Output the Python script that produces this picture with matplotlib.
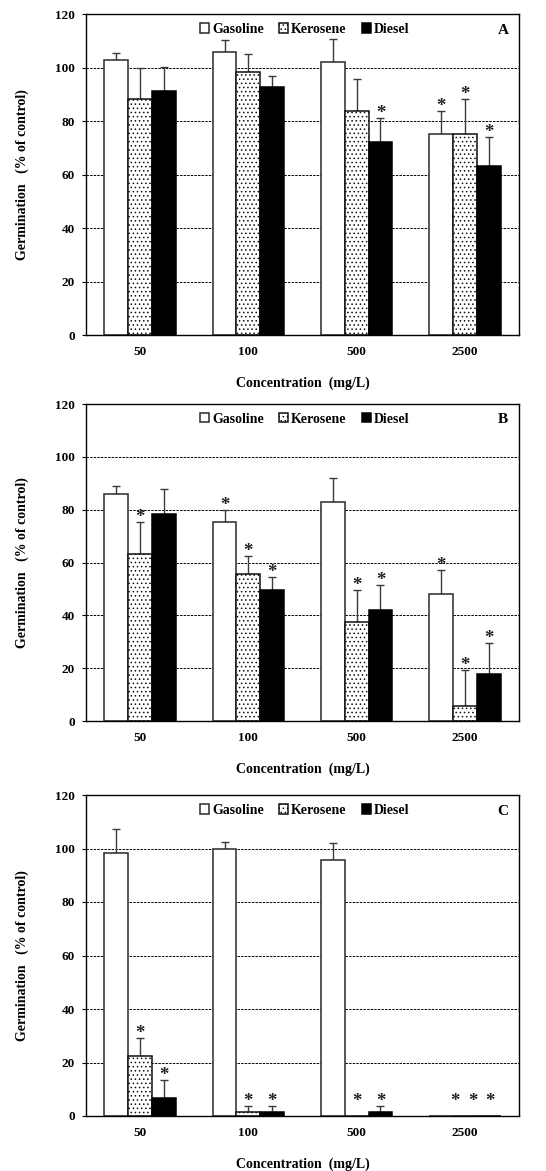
import matplotlib
matplotlib.use("Agg")
import matplotlib.pyplot as plt
import numpy as np

plt.rcParams['font.family'] = ['Liberation Serif', 'DejaVu Serif']
plt.rcParams['font.weight'] = 'bold'
plt.rcParams['hatch.linewidth'] = 0.6

concentrations = ["50", "100", "500", "2500"]
series = ["Gasoline", "Kerosene", "Diesel"]
panels = ["A", "B", "C"]

# Panel A
a_gasoline = [102.9, 105.9, 102.1, 75.0]
a_kerosene = [88.2, 98.4, 83.7, 75.0]
a_diesel = [91.2, 92.7, 72.1, 63.3]
a_gasoline_err = [2.5, 4.3, 8.5, 8.7]
a_kerosene_err = [11.8, 6.6, 11.9, 13.2]
a_diesel_err = [9.0, 4.3, 9.0, 10.9]
a_gasoline_star = [0, 0, 0, 1]
a_kerosene_star = [0, 0, 0, 1]
a_diesel_star = [0, 0, 1, 1]

# Panel B
b_gasoline = [86.0, 75.4, 82.9, 48.2]
b_kerosene = [63.2, 55.6, 37.3, 5.6]
b_diesel = [78.5, 49.6, 42.2, 17.8]
b_gasoline_err = [2.9, 4.6, 8.9, 9.1]
b_kerosene_err = [12.1, 6.9, 12.4, 13.8]
b_diesel_err = [9.5, 4.8, 9.2, 11.6]
b_gasoline_star = [0, 1, 0, 1]
b_kerosene_star = [1, 1, 1, 1]
b_diesel_star = [0, 1, 1, 1]

# Panel C
c_gasoline = [98.5, 100.0, 95.6, 0.0]
c_kerosene = [22.6, 1.4, 0.0, 0.0]
c_diesel = [6.9, 1.4, 1.4, 0.0]
c_gasoline_err = [8.8, 2.6, 6.6, 0.0]
c_kerosene_err = [6.4, 2.5, 0.0, 0.0]
c_diesel_err = [6.6, 2.5, 2.5, 0.0]
c_gasoline_star = [0, 0, 0, 1]
c_kerosene_star = [1, 1, 1, 1]
c_diesel_star = [1, 1, 1, 1]

panel_data = {
    "A": ([a_gasoline, a_kerosene, a_diesel],
          [a_gasoline_err, a_kerosene_err, a_diesel_err],
          [a_gasoline_star, a_kerosene_star, a_diesel_star]),
    "B": ([b_gasoline, b_kerosene, b_diesel],
          [b_gasoline_err, b_kerosene_err, b_diesel_err],
          [b_gasoline_star, b_kerosene_star, b_diesel_star]),
    "C": ([c_gasoline, c_kerosene, c_diesel],
          [c_gasoline_err, c_kerosene_err, c_diesel_err],
          [c_gasoline_star, c_kerosene_star, c_diesel_star]),
}

yticks = [0, 20, 40, 60, 80, 100, 120]

W, H = 546, 1171
fig = plt.figure(figsize=(W / 100, H / 100), dpi=100)

axes_px = {"A": (14, 335), "B": (404, 721), "C": (795, 1116)}
left_px, right_px = 86, 519

styles = [
    dict(facecolor="white", edgecolor="#2a2a2a", hatch=None),
    dict(facecolor="white", edgecolor="#111111", hatch="...."),
    dict(facecolor="black", edgecolor="black", hatch=None),
]
offsets = [-0.22, 0.0, 0.22]
width = 0.22
# manual horizontal nudges for the crowded stars at the last group of panel C
star_nudge = {("C", 3, 0): 0.13, ("C", 3, 1): 0.07, ("C", 3, 2): 0.01}

x = np.arange(len(concentrations))

for p in panels:
    top, bot = axes_px[p]
    ax = fig.add_axes([left_px / W, 1 - bot / H, (right_px - left_px) / W, (bot - top) / H])
    vals, errs, stars = panel_data[p]
    for ax_y in [20, 40, 60, 80, 100]:
        ax.axhline(ax_y, color="black", lw=0.7, ls=(0, (2.5, 1.2)), zorder=0.5)
    handles = []
    for i, name in enumerate(series):
        st = styles[i]
        b = ax.bar(x + offsets[i], vals[i], width, facecolor=st["facecolor"],
                   edgecolor=st["edgecolor"], hatch=st["hatch"], lw=1.1,
                   label=name, zorder=2)
        handles.append(b)
        for j in range(len(concentrations)):
            v, e = vals[i][j], errs[i][j]
            xc = x[j] + offsets[i]
            if e > 0:
                ax.errorbar([xc], [v], yerr=[[0], [e]], fmt="none", ecolor="#3a3a3a",
                            elinewidth=1.0, capsize=3, capthick=1.0, zorder=1.5)
            if stars[i][j]:
                cap = v + e
                base = max(cap, 3.9)
                xs = xc + star_nudge.get((p, j, i), 0.0)
                ax.annotate("*", (xs, base), xytext=(0, 0), textcoords="offset points",
                            ha="center", va="baseline", fontsize=13.5, fontweight="bold",
                            color="#222222", zorder=3)
    ax.set_xlim(-0.5, 3.5)
    ax.set_ylim(0, 120)
    ax.set_yticks(yticks)
    ax.set_yticklabels([str(t) for t in yticks], fontsize=9.5, fontweight="bold")
    ax.set_xticks(x)
    ax.set_xticklabels(concentrations, fontsize=9.5, fontweight="bold")
    ax.tick_params(axis="x", length=0, pad=8)
    ax.tick_params(axis="y", length=3, pad=5, direction="out", width=0.8)
    for s in ax.spines.values():
        s.set_linewidth(1.0)
        s.set_color("black")
    ax.set_xlabel("Concentration  (mg/L)", fontsize=10, fontweight="bold", labelpad=13)
    ax.set_ylabel("Germination   (% of control)", fontsize=10, fontweight="bold", labelpad=19)
    leg = ax.legend(handles=handles, ncol=3, loc="upper center", bbox_to_anchor=(0.505, 0.99),
                    frameon=False, fontsize=10, handlelength=0.65, handleheight=0.65,
                    handletextpad=0.2, columnspacing=1.1, borderaxespad=0)
    ax.text(0.963, 0.95, p, transform=ax.transAxes, ha="center", va="center",
            fontsize=11, fontweight="bold")

fig.savefig("out.png", dpi=100)
